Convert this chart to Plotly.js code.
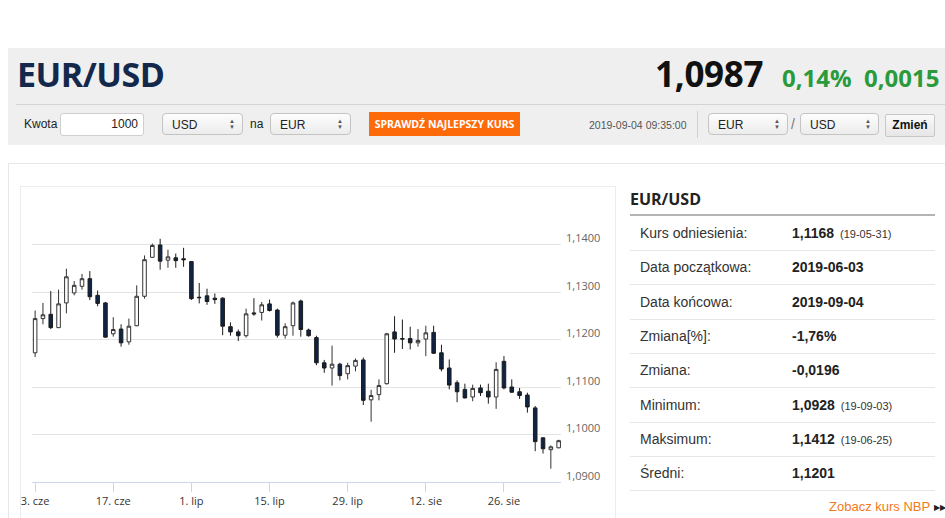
<!DOCTYPE html>
<html><head><meta charset="utf-8">
<script src="https://cdn.plot.ly/plotly-3.0.1.min.js"></script>
<style>
html,body{margin:0;padding:0;background:#fff;}
body{width:945px;height:518px;overflow:hidden;position:relative;font-family:"Liberation Sans",Arial,sans-serif;color:#333;}
.abs{position:absolute;white-space:nowrap;}
.hdr{left:8px;top:48px;width:937px;height:97px;background:#efefef;}
.sel{position:absolute;height:22px;border:1px solid #c4c4c4;border-radius:4px;background:linear-gradient(#fdfdfd,#ececec);font-size:12px;line-height:22px;box-sizing:border-box;padding-left:9px;color:#222;}
.sel .ar{position:absolute;right:7px;top:4px;font-size:6px;line-height:6px;color:#555;}
.row{position:absolute;left:0;width:305px;height:34px;border-bottom:1px solid #e6e6e6;font-size:14px;line-height:34px;}
.row .l{position:absolute;left:10px;color:#333;}
.row .v{position:absolute;left:162px;font-weight:bold;color:#222;}
.row .s{font-size:11px;font-weight:normal;margin-left:6px;color:#333;}
</style></head>
<body>
<div class="abs hdr"></div>
<div class="abs" style="left:17px;top:50px;font-family:'Open Sans';font-weight:700;font-size:34px;line-height:48px;color:#13284a;letter-spacing:-0.5px;">EUR/USD</div>
<div class="abs" style="left:655px;top:50px;font-family:'Open Sans';font-weight:700;font-size:35px;line-height:48px;color:#111;letter-spacing:-0.3px;">1,0987</div>
<div class="abs" style="left:782px;top:60px;font-family:'Open Sans';font-weight:700;font-size:24px;line-height:36px;color:#2b9a3a;">0,14%</div>
<div class="abs" style="left:864px;top:60px;font-family:'Open Sans';font-weight:700;font-size:24px;line-height:36px;color:#2b9a3a;">0,0015</div>
<div class="abs" style="left:16px;top:104px;width:929px;height:1px;background:#d4d4d4;"></div>

<div class="abs" style="left:24px;top:116px;font-size:12px;line-height:16px;color:#222;">Kwota</div>
<div class="abs" style="left:60px;top:113px;width:84px;height:23px;border:1px solid #cfcfcf;border-radius:3px;background:#fff;box-sizing:border-box;font-size:12px;line-height:21px;text-align:right;padding-right:5px;color:#222;">1000</div>
<div class="sel" style="left:162px;top:113px;width:81px;">USD<span class="ar">▲<br>▼</span></div>
<div class="abs" style="left:250px;top:116px;font-size:12px;line-height:16px;color:#222;">na</div>
<div class="sel" style="left:270px;top:113px;width:81px;">EUR<span class="ar">▲<br>▼</span></div>
<div class="abs" style="left:369px;top:112px;width:151px;height:24px;background:#fd6a0a;color:#fff;font-family:'Open Sans';font-weight:700;font-size:10.5px;line-height:24px;text-align:center;">SPRAWDŹ NAJLEPSZY KURS</div>
<div class="abs" style="left:589px;top:118px;font-size:10.5px;line-height:14px;color:#555;">2019-09-04 09:35:00</div>
<div class="abs" style="left:697px;top:111px;width:1px;height:27px;background:#d0d0d0;"></div>
<div class="sel" style="left:708px;top:113px;width:80px;">EUR<span class="ar">▲<br>▼</span></div>
<div class="abs" style="left:791px;top:115px;font-size:14px;line-height:18px;color:#777;">/</div>
<div class="sel" style="left:800px;top:113px;width:79px;">USD<span class="ar">▲<br>▼</span></div>
<div class="abs" style="left:885px;top:114px;width:50px;height:23px;border:1px solid #c8c8c8;border-radius:2px;background:linear-gradient(#fafafa,#e6e6e6);box-sizing:border-box;font-size:12px;font-weight:bold;line-height:21px;text-align:center;color:#111;">Zmień</div>

<div class="abs" style="left:8px;top:163px;width:945px;height:370px;border:1px solid #e6e6e6;box-sizing:border-box;"></div>
<div class="abs" style="left:20px;top:186px;width:596px;height:350px;border:1px solid #ececec;box-sizing:border-box;"></div>
<div id="chart" class="abs" style="left:16px;top:186px;width:600px;height:332px;"></div>

<div class="abs" style="left:630px;top:188px;font-family:'Open Sans';font-weight:700;font-size:16px;line-height:22px;color:#222;">EUR/USD</div>
<div class="abs" style="left:630px;top:214px;width:305px;height:2px;background:#b4b4b4;"></div>
<div class="abs" style="left:630px;top:216px;width:305px;height:280px;">
  <div class="row" style="top:0px;"><span class="l">Kurs odniesienia:</span><span class="v">1,1168<span class="s">(19-05-31)</span></span></div>
  <div class="row" style="top:34.3px;"><span class="l">Data początkowa:</span><span class="v">2019-06-03</span></div>
  <div class="row" style="top:68.6px;"><span class="l">Data końcowa:</span><span class="v">2019-09-04</span></div>
  <div class="row" style="top:102.9px;"><span class="l">Zmiana[%]:</span><span class="v">-1,76%</span></div>
  <div class="row" style="top:137.2px;"><span class="l">Zmiana:</span><span class="v">-0,0196</span></div>
  <div class="row" style="top:171.5px;"><span class="l">Minimum:</span><span class="v">1,0928<span class="s">(19-09-03)</span></span></div>
  <div class="row" style="top:205.8px;"><span class="l">Maksimum:</span><span class="v">1,1412<span class="s">(19-06-25)</span></span></div>
  <div class="row" style="top:240.1px;"><span class="l">Średni:</span><span class="v">1,1201</span></div>
</div>
<div class="abs" style="left:829px;top:499px;font-size:13px;line-height:16px;color:#f27a1a;">Zobacz kurs NBP <span style="color:#222;font-size:8px;vertical-align:1px;">▶▶</span></div>

<script>
const dates = [
 '2019-06-03','2019-06-04','2019-06-05','2019-06-06','2019-06-07','2019-06-10','2019-06-11','2019-06-12','2019-06-13','2019-06-14',
 '2019-06-17','2019-06-18','2019-06-19','2019-06-20','2019-06-21','2019-06-24','2019-06-25','2019-06-26','2019-06-27','2019-06-28',
 '2019-07-01','2019-07-02','2019-07-03','2019-07-04','2019-07-05','2019-07-08','2019-07-09','2019-07-10','2019-07-11','2019-07-12',
 '2019-07-15','2019-07-16','2019-07-17','2019-07-18','2019-07-19','2019-07-22','2019-07-23','2019-07-24','2019-07-25','2019-07-26',
 '2019-07-29','2019-07-30','2019-07-31','2019-08-01','2019-08-02','2019-08-05','2019-08-06','2019-08-07','2019-08-08','2019-08-09',
 '2019-08-12','2019-08-13','2019-08-14','2019-08-15','2019-08-16','2019-08-19','2019-08-20','2019-08-21','2019-08-22','2019-08-23',
 '2019-08-26','2019-08-27','2019-08-28','2019-08-29','2019-08-30','2019-09-02','2019-09-03','2019-09-04'];
const openV = [
 1.1172,1.1244,1.1253,1.1225,1.1277,1.1298,1.1312,1.1328,1.1293,1.1277,
 1.1212,1.1222,1.1195,1.1229,1.1291,1.1373,1.1399,1.1367,1.1372,1.1370,
 1.1364,1.1289,1.1292,1.1287,1.1287,1.1227,1.1216,1.1208,1.1256,1.1257,
 1.1275,1.1262,1.1209,1.1229,1.1281,1.1220,1.1204,1.1151,1.1140,1.1148,
 1.1128,1.1144,1.1157,1.1073,1.1084,1.1107,1.1216,1.1202,1.1202,1.1193,
 1.1201,1.1215,1.1172,1.1140,1.1109,1.1095,1.1079,1.1098,1.1091,1.1079,
 1.1154,1.1100,1.1090,1.1083,1.1056,1.0993,1.0968,1.0972];
const highV = [
 1.1261,1.1277,1.1302,1.1305,1.1349,1.1323,1.1338,1.1344,1.1303,1.1279,
 1.1247,1.1232,1.1244,1.1314,1.1377,1.1402,1.1412,1.1389,1.1381,1.1393,
 1.1365,1.1319,1.1307,1.1297,1.1289,1.1236,1.1221,1.1265,1.1287,1.1279,
 1.1284,1.1265,1.1234,1.1280,1.1284,1.1223,1.1208,1.1157,1.1187,1.1151,
 1.1151,1.1160,1.1162,1.1094,1.1116,1.1214,1.1249,1.1242,1.1227,1.1222,
 1.1229,1.1229,1.1189,1.1158,1.1114,1.1107,1.1105,1.1105,1.1107,1.1152,
 1.1165,1.1116,1.1098,1.1088,1.1060,1.0994,1.0977,1.0989];
const lowV = [
 1.1163,1.1232,1.1222,1.1224,1.1255,1.1293,1.1305,1.1283,1.1270,1.1204,
 1.1206,1.1185,1.1189,1.1228,1.1286,1.1372,1.1347,1.1351,1.1351,1.1353,
 1.1283,1.1276,1.1273,1.1275,1.1209,1.1208,1.1197,1.1204,1.1250,1.1240,
 1.1259,1.1204,1.1202,1.1208,1.1206,1.1206,1.1146,1.1130,1.1103,1.1114,
 1.1116,1.1133,1.1062,1.1027,1.1072,1.1105,1.1172,1.1180,1.1179,1.1185,
 1.1165,1.1170,1.1133,1.1095,1.1068,1.1076,1.1070,1.1081,1.1065,1.1054,
 1.1095,1.1088,1.1075,1.1046,1.0965,1.0960,1.0928,1.0971];
const closeV = [
 1.1244,1.1252,1.1225,1.1275,1.1332,1.1314,1.1328,1.1290,1.1276,1.1205,
 1.1221,1.1193,1.1228,1.1291,1.1368,1.1398,1.1365,1.1374,1.1366,1.1368,
 1.1286,1.1288,1.1280,1.1284,1.1228,1.1216,1.1208,1.1254,1.1254,1.1273,
 1.1261,1.1209,1.1227,1.1277,1.1221,1.1208,1.1151,1.1140,1.1148,1.1124,
 1.1145,1.1156,1.1072,1.1082,1.1103,1.1212,1.1201,1.1201,1.1193,1.1198,
 1.1214,1.1171,1.1138,1.1104,1.1090,1.1077,1.1097,1.1088,1.1079,1.1137,
 1.1098,1.1089,1.1082,1.1058,1.0985,1.0970,1.0974,1.0987];
const xTickDates = ['2019-06-03','2019-06-17','2019-07-01','2019-07-15','2019-07-29','2019-08-12','2019-08-26'];
const xTickLabels = ['3. cze','17. cze','1. lip','15. lip','29. lip','12. sie','26. sie'];
const yTickVals = [1.09,1.10,1.11,1.12,1.13,1.14,1.15];
const yTickLabels = ['1,0900','1,1000','1,1100','1,1200','1,1300','1,1400',''];

const trace = {
  type:'candlestick', x:dates, open:openV, high:highV, low:lowV, close:closeV,
  increasing:{line:{color:'#333333',width:1}, fillcolor:'#ffffff'},
  decreasing:{line:{color:'#1b1b1b',width:1}, fillcolor:'#0e2447'},
  whiskerwidth:0, hoverinfo:'none', showlegend:false
};
const layout = {
  width:600, height:332,
  margin:{l:16, r:55, t:11, b:36},
  paper_bgcolor:'rgba(0,0,0,0)', plot_bgcolor:'rgba(0,0,0,0)',
  boxgap:0.35,
  showlegend:false,
  font:{family:'Open Sans', size:11, color:'#444'},
  xaxis:{type:'category', range:[-0.4,67.3], rangeslider:{visible:false},
    tickmode:'array', tickvals:xTickDates, ticktext:xTickLabels,
    showgrid:false, showline:true, linecolor:'#ccd6eb', linewidth:1,
    ticks:'outside', ticklen:9, tickcolor:'#ccd6eb', tickfont:{size:11, color:'#333'},
    fixedrange:true},
  yaxis:{side:'right', range:[1.09,1.15], tickmode:'array', tickvals:yTickVals, ticktext:yTickLabels,
    showgrid:true, gridcolor:'#e3e3e3', gridwidth:1, zeroline:false, showline:false,
    ticks:'', ticklabelstandoff:4, ticklabelshift:-6, tickfont:{size:11, color:'#666'}, fixedrange:true}
};
Plotly.newPlot('chart',[trace],layout,{staticPlot:true, displayModeBar:false});
</script>
</body></html>
